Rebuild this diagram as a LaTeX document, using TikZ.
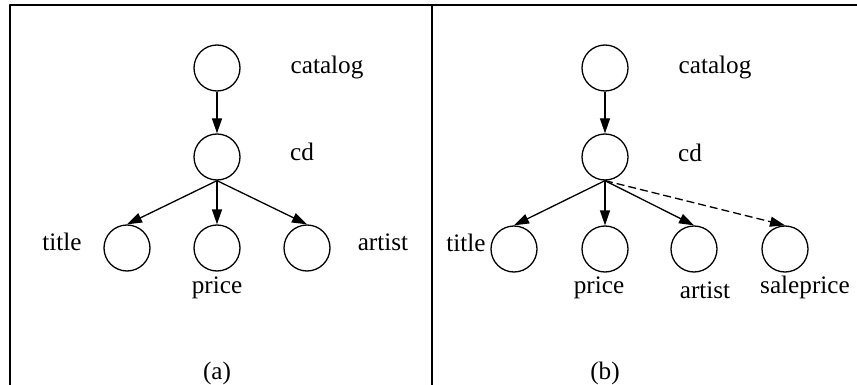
\documentclass[tikz,border=0pt]{standalone}
\usepackage{fontspec}
\setmainfont{Liberation Serif}
\usetikzlibrary{arrows.meta}
\begin{document}
\begin{tikzpicture}[x=0.5pt, y=-0.5pt, line join=round,
    font=\fontsize{12.6}{15}\selectfont,
    >={Triangle[length=7.5pt,width=5pt]},
    elem/.style={circle, draw, line width=0.65pt, minimum size=23pt, inner sep=0pt},
    edge/.style={->, line width=0.65pt},
    newedge/.style={edge, dash pattern=on 4pt off 2pt}]
\useasboundingbox (0,0) rectangle (857,385);
% frame
\draw[line width=1pt] (9.5,385)--(9.5,5)--(857,5);
\draw[line width=1pt] (432,5)--(432,385);
% (a)
\node[elem] (catA) at (217,68) {};
\node[elem] (cdA) at (217,157) {};
\node[elem] (titleA) at (127,248) {};
\node[elem] (priceA) at (217,248) {};
\node[elem] (artistA) at (307,248) {};
\node (lcatA) at (327,67) {catalog};
\node (lcdA) at (302,152) {cd};
\node (ltitleA) at (62,242) {title};
\node (lpriceA) at (217,288) {price};
\node (lartistA) at (383,242) {artist};
\node (capA) at (217,373) {(a)};
\draw[edge] (catA)--(cdA);
\draw[edge] (cdA.south)--(titleA.north);
\draw[edge] (cdA.south)--(priceA.north);
\draw[edge] (cdA.south)--(artistA.north);
% (b)
\node[elem] (catB) at (605,68) {};
\node[elem] (cdB) at (605,157) {};
\node[elem] (titleB) at (514,249) {};
\node[elem] (priceB) at (605,249) {};
\node[elem] (artistB) at (694,249) {};
\node[elem] (saleB) at (785,249) {};
\node (lcatB) at (715,67) {catalog};
\node (lcdB) at (690,153) {cd};
\node (ltitleB) at (466,243) {title};
\node (lpriceB) at (599,288) {price};
\node (lartistB) at (705,290) {artist};
\node (lsaleB) at (805,287) {saleprice};
\node (capB) at (605,373) {(b)};
\draw[edge] (catB)--(cdB);
\draw[edge] (cdB.south)--(titleB.north);
\draw[edge] (cdB.south)--(priceB.north);
\draw[edge] (cdB.south)--(artistB.north);
\draw[newedge] (cdB.south)--(saleB.north);
\end{tikzpicture}
\end{document}
